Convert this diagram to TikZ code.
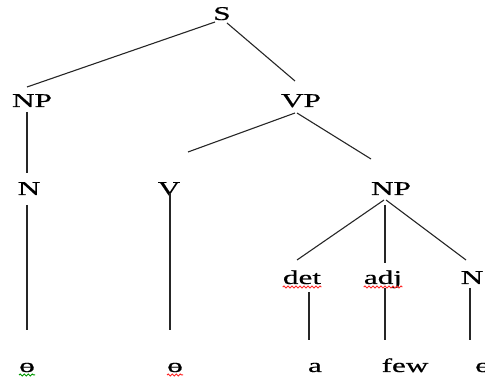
\documentclass[tikz,border=0pt]{standalone}
\usepackage{fontspec}
\setmainfont[FakeStretch=1.6,FakeBold=0.6]{Liberation Serif}
\usetikzlibrary{decorations.pathmorphing}
\begin{document}
\begin{tikzpicture}[x=1pt,y=-1pt,
  lbl/.style={anchor=base,inner sep=0pt,font=\fontsize{19.5}{22}\selectfont},
  branch/.style={draw=black!85,line width=1.1pt},
  squig/.style={line width=1pt,decorate,decoration={snake,amplitude=1pt,segment length=4pt}}]
\useasboundingbox (0,0) rectangle (485,379);
% category labels
\node[lbl] (S)   at (222,20)  {S};
\node[lbl] (NPa) at (32,107)  {NP};
\node[lbl] (VP)  at (301,107) {VP};
\node[lbl] (Na)  at (29,195)  {N};
\node[lbl] (V)   at (169,195) {V};
\node[lbl] (NPb) at (391,195) {NP};
\node[lbl] (det) at (302,284) {det};
\node[lbl] (adj) at (383,284) {adj};
\node[lbl] (Nb)  at (472,284) {N};
% words
\node[lbl] (w1) at (27,372)  {ɵ};
\node[lbl] (w2) at (175,372) {ɵ};
\node[lbl] (w3) at (315,372) {a};
\node[lbl] (w4) at (405,372) {few};
\node[lbl] (w5) at (483,372) {ɵ};
% branch end points
\coordinate (s1) at (215,22);  \coordinate (s2) at (27,87);
\coordinate (s3) at (227,23);  \coordinate (s4) at (295,81);
\coordinate (n1) at (27,112);  \coordinate (n2) at (27,173);
\coordinate (n3) at (27,205);  \coordinate (n4) at (27,330);
\coordinate (v1) at (295,113); \coordinate (v2) at (188,152);
\coordinate (v3) at (297,113); \coordinate (v4) at (371,159);
\coordinate (v5) at (170,193); \coordinate (v6) at (170,330);
\coordinate (p1) at (384,200); \coordinate (p2) at (297,260);
\coordinate (p3) at (385,205); \coordinate (p4) at (385,263);
\coordinate (p5) at (386,200); \coordinate (p6) at (466,260);
\coordinate (d1) at (309,292); \coordinate (d2) at (309,340);
\coordinate (a1) at (385,288); \coordinate (a2) at (385,340);
\coordinate (e1) at (470,288); \coordinate (e2) at (470,340);
% branches
\draw[branch] (s1) -- (s2);
\draw[branch] (s3) -- (s4);
\draw[branch] (n1) -- (n2);
\draw[branch] (n3) -- (n4);
\draw[branch] (v1) -- (v2);
\draw[branch] (v3) -- (v4);
\draw[branch] (v5) -- (v6);
\draw[branch] (p1) -- (p2);
\draw[branch] (p3) -- (p4);
\draw[branch] (p5) -- (p6);
\draw[branch] (d1) -- (d2);
\draw[branch] (a1) -- (a2);
\draw[branch] (e1) -- (e2);
% spelling marks
\draw[squig,red!85] ([yshift=-3pt]det.base west) -- ([yshift=-3pt]det.base east);
\draw[squig,red!85] ([yshift=-3pt]adj.base west) -- ([yshift=-3pt]adj.base east);
\draw[squig,green!60!black] ([yshift=-3pt]w1.base west) -- ([yshift=-3pt]w1.base east);
\draw[squig,red!85] ([yshift=-3pt]w2.base west) -- ([yshift=-3pt]w2.base east);
\end{tikzpicture}
\end{document}
